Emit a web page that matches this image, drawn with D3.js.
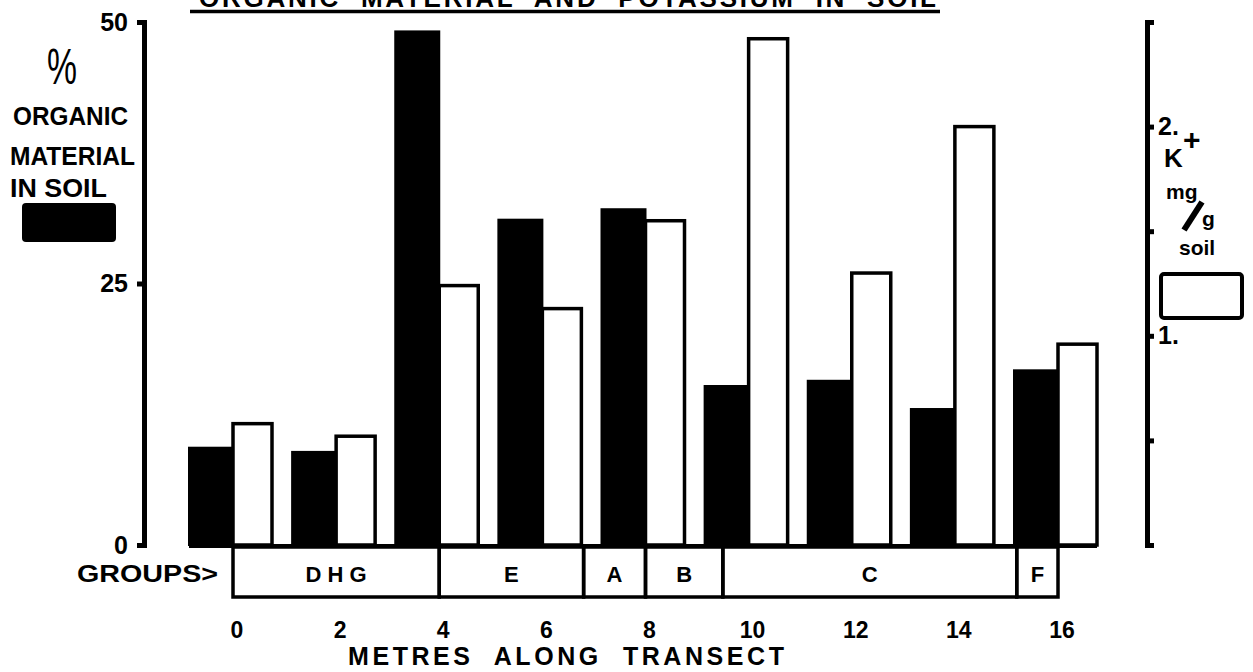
<!DOCTYPE html>
<html lang="en">
<head>
  <meta charset="UTF-8">
  <script src="https://d3js.org/d3.v7.min.js"></script>
  <style>
    body { margin: 0; background: white; }
    svg { display: block; background: white; }
    text { font-family: "Liberation Sans", Arial, sans-serif; font-weight: bold; fill: black; white-space: pre; }
    .axis path, .axis line { stroke: black; stroke-width: 5; }
    .axis text { font-size: 25px; font-family: "Liberation Sans", Arial, sans-serif; font-weight: bold; }
  </style>
</head>
<body>
  <svg></svg>
  <script>

// data
const metres = [0, 2, 4, 6, 8, 10, 12, 14, 16];
const organic = [9.3, 8.9, 49.1, 31.1, 32.1, 15.2, 15.7, 13.0, 16.7];    // % organic material (black)
const potassium = [0.58, 0.52, 1.24, 1.13, 1.55, 2.42, 1.30, 2.00, 0.96]; // K+ mg/g soil (white)
const groupNames = ["D H G", "E", "A", "B", "C", "F"];
const groupStart = [0, 4, 6.8, 8, 9.5, 15.2];
const groupEnd = [4, 6.8, 8, 9.5, 15.2, 16];
const leftTicks = [0, 25, 50];
const rightTicks = [0.5, 1, 1.5, 2];
const rightTickLabels = ["", "1.", "", "2."];

const w = 1253, h = 672;
const base = 545;

const svg = d3.select("svg").attr("width", w).attr("height", h);

const x = d3.scaleLinear().domain([0, 16]).range([233, 1058]);
const yL = d3.scaleLinear().domain([0, 50]).range([base, 22]);
const yR = d3.scaleLinear().domain([0, 2.5]).range([base, 22]);
const blackW = 44, whiteW = 39;

// title (cut off at the top of the page, as in the original scan)
svg.append("text")
   .attr("x", 199).attr("y", 7)
   .attr("textLength", 737).attr("lengthAdjust", "spacing")
   .style("font-size", "26px")
   .text("ORGANIC  MATERIAL  AND  POTASSIUM  IN  SOIL");
svg.append("line")
   .attr("x1", 190).attr("x2", 940).attr("y1", 11.5).attr("y2", 11.5)
   .attr("stroke", "black").attr("stroke-width", 3.5);

// left axis
const axL = svg.append("g").attr("class", "axis")
   .attr("transform", "translate(144,0)")
   .call(d3.axisLeft(yL).tickValues(leftTicks).tickSize(7).tickSizeOuter(7).tickPadding(9));
axL.selectAll(".tick line").attr("stroke-width", 3);

// right axis
const axR = svg.append("g").attr("class", "axis")
   .attr("transform", "translate(1147,0)")
   .call(d3.axisRight(yR).tickValues(rightTicks).tickSize(7).tickSizeOuter(7).tickPadding(4)
           .tickFormat((d, i) => rightTickLabels[i]));
axR.selectAll(".tick line").attr("stroke-width", 3);

// bars
svg.append("g").selectAll("rect")
   .data(organic)
   .join("rect")
   .attr("x", (d, i) => x(metres[i]) - blackW)
   .attr("y", d => yL(d))
   .attr("width", blackW)
   .attr("height", d => base - yL(d))
   .attr("fill", "black")
   .attr("stroke", "black").attr("stroke-width", 2);

svg.append("g").selectAll("rect")
   .data(potassium)
   .join("rect")
   .attr("x", (d, i) => x(metres[i]))
   .attr("y", d => yR(d))
   .attr("width", whiteW)
   .attr("height", d => base - yR(d))
   .attr("fill", "white")
   .attr("stroke", "black").attr("stroke-width", 3.5);

// baseline
svg.append("line")
   .attr("x1", x(0) - blackW).attr("x2", x(16) + whiteW)
   .attr("y1", base + 1).attr("y2", base + 1)
   .attr("stroke", "black").attr("stroke-width", 4);

// group boxes
const gb = svg.append("g");
gb.selectAll("rect")
  .data(groupNames)
  .join("rect")
  .attr("x", (d, i) => x(groupStart[i]))
  .attr("y", base + 2)
  .attr("width", (d, i) => x(groupEnd[i]) - x(groupStart[i]))
  .attr("height", 50)
  .attr("fill", "none")
  .attr("stroke", "black").attr("stroke-width", 3.5);
gb.selectAll("text")
  .data(groupNames)
  .join("text")
  .attr("x", (d, i) => (x(groupStart[i]) + x(groupEnd[i])) / 2)
  .attr("y", 582)
  .attr("text-anchor", "middle")
  .style("font-size", "22px")
  .text(d => d);

svg.append("text")
   .attr("x", 77).attr("y", 582)
   .attr("textLength", 141).attr("lengthAdjust", "spacingAndGlyphs")
   .style("font-size", "24px")
   .text("GROUPS>");

// x labels
svg.append("g").selectAll("text")
   .data(metres)
   .join("text")
   .attr("x", d => x(d) + 4)
   .attr("y", 638)
   .attr("text-anchor", "middle")
   .style("font-size", "23px")
   .text(d => d);

svg.append("text")
   .attr("x", 348).attr("y", 665)
   .attr("textLength", 436).attr("lengthAdjust", "spacing")
   .style("font-size", "25px")
   .text("METRES  ALONG  TRANSECT");

// left legend
svg.append("text").attr("x", 47).attr("y", 84)
   .attr("textLength", 30).attr("lengthAdjust", "spacingAndGlyphs")
   .style("font-size", "50px").style("font-weight", "normal")
   .text("%");
svg.append("text").attr("x", 13).attr("y", 125)
   .attr("textLength", 115).attr("lengthAdjust", "spacingAndGlyphs")
   .style("font-size", "25px").text("ORGANIC");
svg.append("text").attr("x", 10).attr("y", 165)
   .attr("textLength", 125).attr("lengthAdjust", "spacingAndGlyphs")
   .style("font-size", "25px").text("MATERIAL");
svg.append("text").attr("x", 10).attr("y", 197)
   .attr("textLength", 97).attr("lengthAdjust", "spacingAndGlyphs")
   .style("font-size", "25px").text("IN SOIL");
svg.append("rect").attr("x", 22).attr("y", 203).attr("width", 94).attr("height", 39)
   .attr("rx", 4).attr("fill", "black");

// right legend
svg.append("text").attr("x", 1164).attr("y", 167).style("font-size", "26px").text("K");
svg.append("text").attr("x", 1183).attr("y", 150).style("font-size", "30px").text("+");
svg.append("text").attr("x", 1166).attr("y", 199).style("font-size", "21px").text("mg");
svg.append("line").attr("x1", 1184).attr("y1", 230).attr("x2", 1202).attr("y2", 202)
   .attr("stroke", "black").attr("stroke-width", 6);
svg.append("text").attr("x", 1202).attr("y", 226).style("font-size", "21px").text("g");
svg.append("text").attr("x", 1179).attr("y", 255).style("font-size", "21px").text("soil");
svg.append("rect").attr("x", 1161).attr("y", 274).attr("width", 81).attr("height", 44)
   .attr("rx", 3).attr("fill", "white").attr("stroke", "black").attr("stroke-width", 4);

  </script>
</body>
</html>
